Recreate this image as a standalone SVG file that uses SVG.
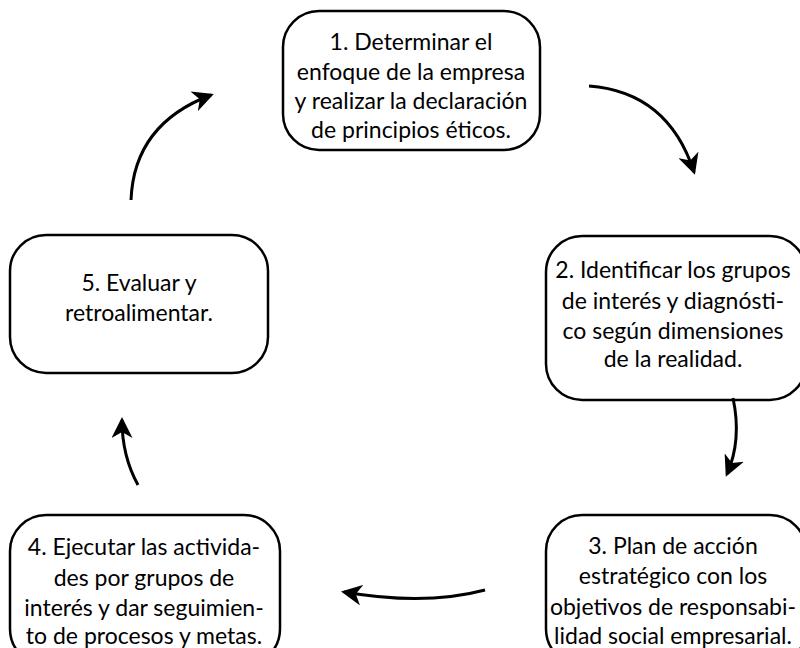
<svg xmlns="http://www.w3.org/2000/svg" width="800" height="648" viewBox="0 0 800 648">
<style>
.box{fill:#fff;stroke:#000;stroke-width:2.5}
.t{font-family:Lato,"Open Sans",sans-serif;font-size:23px;fill:#000;text-anchor:middle}
.c{fill:none;stroke:#000;stroke-width:3}
</style>
<defs>
<marker id="ah" markerWidth="8" markerHeight="7" refX="6" refY="3.5" orient="auto" markerUnits="strokeWidth">
<path d="M0,0 L7,3.5 L0,7 L2,3.5 z" fill="#000"/>
</marker>
</defs>
<rect width="800" height="648" fill="#fff"/>
<g id="n1"><rect class="box" x="283" y="11" width="257" height="139" rx="36"/>
<text class="t"><tspan x="411" y="50">1. Determinar el</tspan><tspan x="411" y="80">enfoque de la empresa</tspan><tspan x="411" y="109">y realizar la declaración</tspan><tspan x="411" y="138">de principios éticos.</tspan></text></g>
<g id="n2"><rect class="box" x="546" y="236" width="260" height="164" rx="36"/>
<text class="t"><tspan x="673" y="278">2. Identificar los grupos</tspan><tspan x="673" y="309">de interés y diagnósti-</tspan><tspan x="673" y="339">co según dimensiones</tspan><tspan x="673" y="367">de la realidad.</tspan></text></g>
<g id="n3"><rect class="box" x="546" y="515" width="260" height="150" rx="36"/>
<text class="t"><tspan x="673" y="554">3. Plan de acción</tspan><tspan x="673" y="584">estratégico con los</tspan><tspan x="673" y="615">objetivos de responsabi-</tspan><tspan x="673" y="644">lidad social empresarial.</tspan></text></g>
<g id="n4"><rect class="box" x="10" y="515" width="270" height="150" rx="36"/>
<text class="t"><tspan x="144" y="555">4. Ejecutar las activida-</tspan><tspan x="144" y="586">des por grupos de</tspan><tspan x="144" y="616">interés y dar seguimien-</tspan><tspan x="144" y="644">to de procesos y metas.</tspan></text></g>
<g id="n5"><rect class="box" x="10" y="235" width="258" height="138" rx="36"/>
<text class="t"><tspan x="139" y="291">5. Evaluar y</tspan><tspan x="139" y="321">retroalimentar.</tspan></text></g>
<g id="connectors">
<path class="c" d="M589,86 Q668,92 694,172" marker-end="url(#ah)"/>
<path class="c" d="M733,398 Q742,440 727,474" marker-end="url(#ah)"/>
<path class="c" d="M485,590 Q425,606 344,592" marker-end="url(#ah)"/>
<path class="c" d="M138,485 Q122,456 122,420" marker-end="url(#ah)"/>
<path class="c" d="M131,200 Q134,124 211,95" marker-end="url(#ah)"/>
</g>
</svg>
